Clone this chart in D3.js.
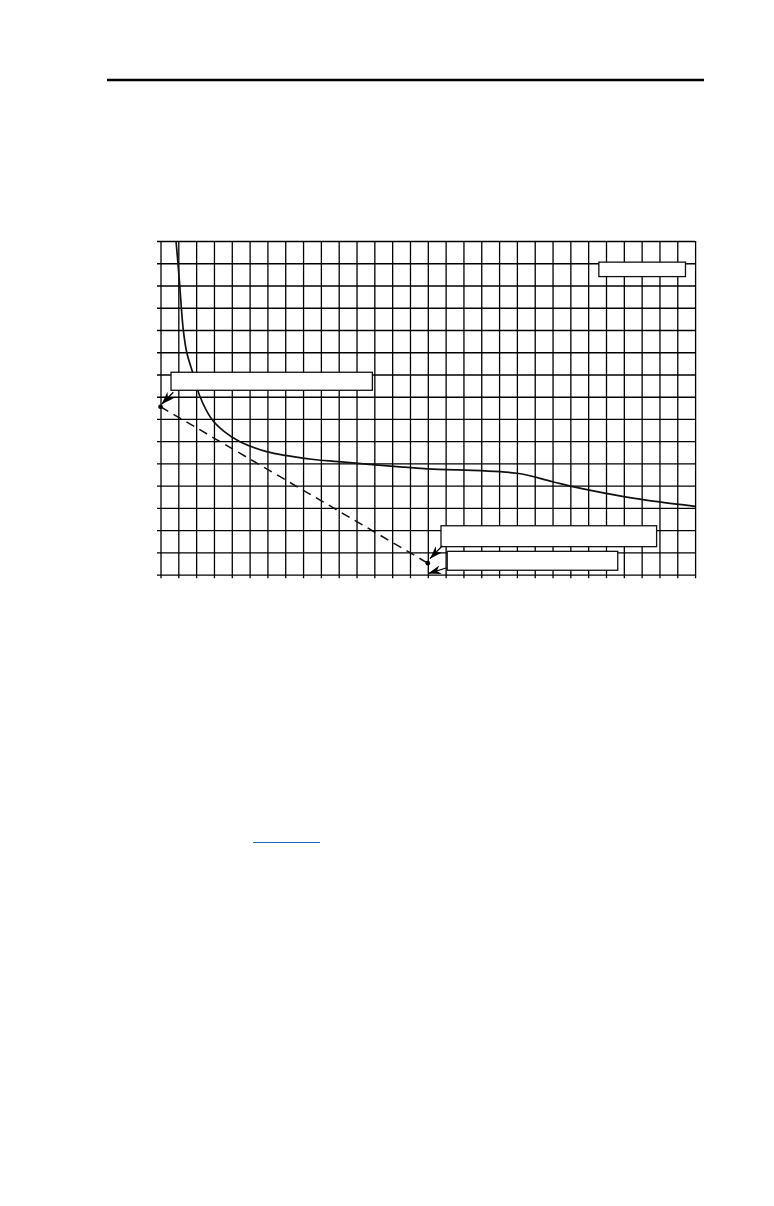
<!DOCTYPE html>
<html>
<head>
<meta charset="utf-8">
<script src="https://cdn.jsdelivr.net/npm/d3@7"></script>
<style>
  body { margin: 0; background: #fff; }
  svg { display: block; }
</style>
</head>
<body>
<svg width="774" height="1206"></svg>
<script>
// grid: 30 columns x 15 rows, no tick labels printed
const colCount = 30
const rowCount = 15

// solid curve (column, row)
const curveX = [0.87, 0.98, 1.08, 1.17, 1.28, 1.47, 1.84, 2.22, 2.87, 3.6, 4.46, 5.96, 8.39, 10, 13.44, 15, 20, 22, 24, 26, 28, 30]
const curveY = [15, 14, 13, 12, 11, 10, 9, 8, 7, 6.42, 5.98, 5.53, 5.2, 5.08, 4.85, 4.76, 4.56, 4.18, 3.81, 3.51, 3.27, 3.07]

// dashed line end points
const dashX = [0, 15]
const dashY = [7.55, 0.52]

const svg = d3.select('svg')
const plotLeft = 160.5
const plotTop = 241
const w = 534.6
const h = 333.7

// page header rule
svg.append('line')
    .attr('x1', 107).attr('x2', 704)
    .attr('y1', 80).attr('y2', 80)
    .attr('stroke', '#000')
    .attr('stroke-width', 2.6)

// blue link underline further down the page
svg.append('line')
    .attr('x1', 253).attr('x2', 320)
    .attr('y1', 842.5).attr('y2', 842.5)
    .attr('stroke', '#1f6fbf')
    .attr('stroke-width', 1.1)

const x = d3.scaleLinear().domain([0, colCount]).range([0, w])
const y = d3.scaleLinear().domain([0, rowCount]).range([h, 0])

const g = svg.append('g').attr('transform', `translate(${plotLeft},${plotTop})`)

// arrow marker
svg.append('defs').append('marker')
    .attr('id', 'arr')
    .attr('viewBox', '0 -5 13 10')
    .attr('refX', 13).attr('refY', 0)
    .attr('markerWidth', 13).attr('markerHeight', 10)
    .attr('markerUnits', 'userSpaceOnUse')
    .attr('orient', 'auto')
    .append('path')
    .attr('d', 'M0,-4.5 L13,0 L0,4.5 L4,0 Z')
    .attr('fill', '#000')

// horizontal grid via left axis, ticks stick out 3px
g.append('g')
    .call(d3.axisLeft(y).ticks(rowCount).tickSize(-w).tickFormat(''))
    .call(a => a.select('.domain').remove())
    .call(a => a.selectAll('.tick line')
        .attr('x1', -3.5)
        .attr('stroke', '#000')
        .attr('stroke-width', 1.3))

// vertical grid via bottom axis
g.append('g')
    .attr('transform', `translate(0,${h})`)
    .call(d3.axisBottom(x).ticks(colCount).tickSize(-h).tickFormat(''))
    .call(a => a.select('.domain').remove())
    .call(a => a.selectAll('.tick line')
        .attr('y1', 3.5)
        .attr('stroke', '#000')
        .attr('stroke-width', 1.3))

// solid curve
const line = d3.line()
    .x(i => x(curveX[i]))
    .y(i => y(curveY[i]))
    .curve(d3.curveCatmullRom.alpha(0.5))
g.append('path')
    .attr('d', line(d3.range(curveX.length)))
    .attr('fill', 'none')
    .attr('stroke', '#111')
    .attr('stroke-width', 1.7)

// dashed line with end dots
g.append('line')
    .attr('x1', x(dashX[0])).attr('y1', y(dashY[0]))
    .attr('x2', x(dashX[1])).attr('y2', y(dashY[1]))
    .attr('stroke', '#111')
    .attr('stroke-width', 1.5)
    .attr('stroke-dasharray', '9,6')
g.selectAll('circle.end')
    .data([0, 1])
    .join('circle')
    .attr('class', 'end')
    .attr('cx', i => x(dashX[i]))
    .attr('cy', i => y(dashY[i]))
    .attr('r', 2.3)
    .attr('fill', '#000')

// empty callout boxes [x0, x1, yTop, yBottom] in grid units
const boxes = [
    [24.6, 29.46, 14.05, 13.4],
    [0.59, 11.89, 9.1, 8.29],
    [15.74, 27.84, 2.2, 1.26],
    [16.09, 25.66, 1.05, 0.2]
]
g.selectAll('rect.box')
    .data(boxes)
    .join('rect')
    .attr('class', 'box')
    .attr('x', d => x(d[0]))
    .attr('y', d => y(d[2]))
    .attr('width', d => x(d[1]) - x(d[0]))
    .attr('height', d => y(d[3]) - y(d[2]))
    .attr('fill', '#fff')
    .attr('stroke', '#111')
    .attr('stroke-width', 1.3)

// pointer arrows [fromX, fromY, toX, toY]
const arrows = [
    [0.72, 8.2, 0.06, 7.66],
    [15.82, 1.3, 15.12, 0.72],
    [16.02, 0.3, 15.02, 0.05]
]
g.selectAll('line.arrow')
    .data(arrows)
    .join('line')
    .attr('class', 'arrow')
    .attr('x1', d => x(d[0])).attr('y1', d => y(d[1]))
    .attr('x2', d => x(d[2])).attr('y2', d => y(d[3]))
    .attr('stroke', '#000')
    .attr('stroke-width', 1.2)
    .attr('marker-end', 'url(#arr)')
</script>
</body>
</html>
